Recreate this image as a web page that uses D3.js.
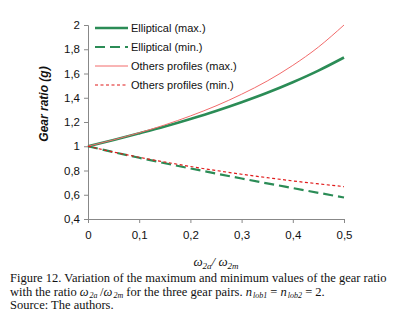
<!DOCTYPE html>
<html>
<head>
<meta charset="utf-8">
<script src="https://cdn.jsdelivr.net/npm/d3@7"></script>
<style>
  body { margin: 0; background: #fff; }
  svg { display: block; }
</style>
</head>
<body>
<div id="chart"></div>
<script>
// ratio ω2a/ω2m
const ratio = [0, 0.05, 0.1, 0.15, 0.2, 0.25, 0.3, 0.35, 0.4, 0.45, 0.5];
// gear ratio values
const ellipticalMax = [1, 1.051, 1.106, 1.163, 1.225, 1.291, 1.363, 1.441, 1.528, 1.624, 1.732];
const ellipticalMin = [1, 0.951, 0.905, 0.860, 0.817, 0.775, 0.734, 0.694, 0.655, 0.616, 0.577];
const othersMax = [1, 1.053, 1.111, 1.176, 1.250, 1.333, 1.429, 1.538, 1.667, 1.818, 2.0];
const othersMin = [1, 0.952, 0.909, 0.870, 0.833, 0.800, 0.769, 0.741, 0.714, 0.690, 0.667];
const xTicks = [0, 0.1, 0.2, 0.3, 0.4, 0.5];
const yTicks = [0.4, 0.6, 0.8, 1, 1.2, 1.4, 1.6, 1.8, 2];
const legendLabels = ["Elliptical (max.)", "Elliptical (min.)", "Others profiles (max.)", "Others profiles (min.)"];

const width = 394, height = 321;
const margin = { left: 88, top: 25, right: 50, bottom: 102 };
const innerW = width - margin.left - margin.right;
const innerH = height - margin.top - margin.bottom;

const svg = d3.select("#chart").append("svg").attr("width", width).attr("height", height);
const g = svg.append("g").attr("transform", `translate(${margin.left},${margin.top})`);

const x = d3.scaleLinear().domain([0, 0.5]).range([0, innerW]);
const y = d3.scaleLinear().domain([0.4, 2]).range([innerH, 0]);
const fmt = d => String(d).replace(".", ",");

// 系列样式
const series = [
  { values: ellipticalMax, color: "#2b8c56", width: 2.6, dash: null },
  { values: ellipticalMin, color: "#2b8c56", width: 2.2, dash: "10,5" },
  { values: othersMax, color: "#f26b6b", width: 1, dash: null },
  { values: othersMin, color: "#e01b1b", width: 1.2, dash: "3,2.5" }
];

const line = d3.line().x((d, i) => x(ratio[i])).y(d => y(d)).curve(d3.curveMonotoneX);

// 坐标轴
const xAxis = g.append("g").attr("transform", `translate(0,${innerH})`)
  .call(d3.axisBottom(x).tickValues(xTicks).tickSize(4).tickPadding(8).tickFormat(fmt));
const yAxis = g.append("g")
  .call(d3.axisLeft(y).tickValues(yTicks).tickSize(4).tickPadding(4).tickFormat(fmt));
[xAxis, yAxis].forEach(a => {
  a.selectAll("path, line").attr("stroke", "#888").attr("stroke-width", 1);
  a.selectAll("text").attr("font-family", "Liberation Sans, Arial, sans-serif")
    .attr("font-size", 11.5).attr("fill", "#111");
});

series.forEach(s => {
  g.append("path").datum(s.values)
    .attr("fill", "none")
    .attr("stroke", s.color)
    .attr("stroke-width", s.width)
    .attr("stroke-dasharray", s.dash)
    .attr("d", line);
});

// 图例
const legend = g.append("g").attr("transform", "translate(7,3)");
legendLabels.forEach((lab, i) => {
  const s = series[i];
  const row = legend.append("g").attr("transform", `translate(0,${i * 19})`);
  row.append("line").attr("x1", 0).attr("x2", 33).attr("y1", 0).attr("y2", 0)
    .attr("stroke", s.color).attr("stroke-width", s.width)
    .attr("stroke-dasharray", s.dash);
  row.append("text").attr("x", 36).attr("y", 4)
    .attr("font-family", "Liberation Sans, Arial, sans-serif").attr("font-size", 11)
    .attr("fill", "#111").text(lab);
});

// 轴标题
svg.append("text")
  .attr("transform", `translate(48,${margin.top + innerH / 2 - 18}) rotate(-90)`)
  .attr("text-anchor", "middle")
  .attr("font-family", "Liberation Sans, Arial, sans-serif")
  .attr("font-size", 12).attr("font-weight", "bold").attr("font-style", "italic")
  .attr("fill", "#111").text("Gear ratio (g)");

const xt = svg.append("text")
  .attr("x", margin.left + innerW / 2).attr("y", 266)
  .attr("text-anchor", "middle")
  .attr("font-family", "Liberation Serif, Times New Roman, serif")
  .attr("font-size", 13).attr("font-style", "italic").attr("fill", "#111");
xt.append("tspan").text("ω");
xt.append("tspan").attr("font-size", 9).attr("dy", 3).text("2a");
xt.append("tspan").attr("dy", -3).text("/ ω");
xt.append("tspan").attr("font-size", 9).attr("dy", 3).text("2m");

// 图注
const cap = svg.append("g")
  .attr("font-family", "Liberation Serif, Times New Roman, serif")
  .attr("font-size", 12.5).attr("fill", "#111");
cap.append("text").attr("x", 10).attr("y", 282)
  .text("Figure 12. Variation of the maximum and minimum values of the gear ratio");
const c2 = cap.append("text").attr("x", 10).attr("y", 296);
const sub = (t) => c2.append("tspan").attr("font-style", "italic").attr("font-size", 8)
  .attr("dx", 1).attr("dy", 2).text(t);
c2.append("tspan").text("with the ratio ");
c2.append("tspan").attr("font-style", "italic").text("ω");
sub("2a");
c2.append("tspan").attr("dy", -2).attr("dx", 2.5).text("/");
c2.append("tspan").attr("font-style", "italic").text("ω");
sub("2m");
c2.append("tspan").attr("dy", -2).text(" for the three gear pairs. ");
c2.append("tspan").attr("font-style", "italic").text("n");
sub("lob1");
c2.append("tspan").attr("dy", -2).text(" = ");
c2.append("tspan").attr("font-style", "italic").text("n");
sub("lob2");
c2.append("tspan").attr("dy", -2).text(" = 2.");
cap.append("text").attr("x", 10).attr("y", 309).text("Source: The authors.");
</script>
</body>
</html>
